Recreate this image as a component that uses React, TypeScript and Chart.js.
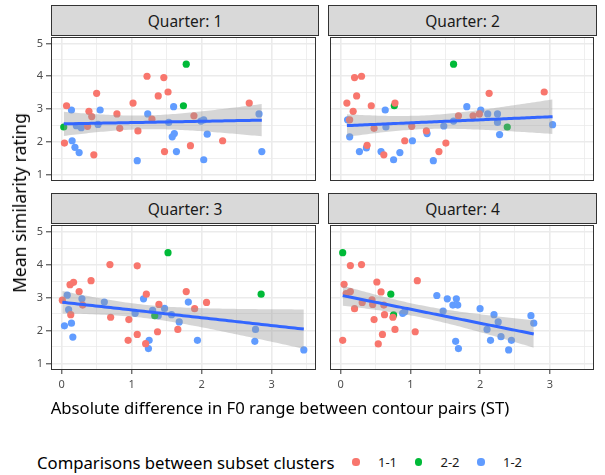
import React, { useEffect, useRef } from "react";
import { Chart, registerables } from "chart.js";
Chart.register(...registerables);

const GROUPS = ["1-1", "2-2", "1-2"];
const COLORS = ["#F8766D", "#00BA38", "#619CFF"];
const QUARTERS = ["Quarter: 1", "Quarter: 2", "Quarter: 3", "Quarter: 4"];
const X_TITLE = "Absolute difference in F0 range between contour pairs (ST)";
const Y_TITLE = "Mean similarity rating";
const LEGEND_TITLE = "Comparisons between subset clusters";
const X_GRID = [0, 0.5, 1, 1.5, 2, 2.5, 3, 3.5];
const Y_GRID = [1, 1.5, 2, 2.5, 3, 3.5, 4, 4.5, 5];
const X_MIN = -0.152, X_MAX = 3.634;
const Y_MIN = 0.8, Y_MAX = 5.2;

// Quarter 1
const q1_11 = [[0.07,3.10],[0.50,3.48],[1.22,4.00],[1.46,3.96],[1.52,3.52],[1.38,3.40],[1.02,3.18],[0.79,2.85],[0.39,2.93],[0.43,2.77],[0.37,2.47],[0.83,2.41],[1.09,2.33],[1.29,2.69],[1.89,2.79],[1.84,1.88],[1.47,1.70],[2.30,2.03],[2.68,3.18],[0.04,1.96],[0.46,1.60]];
const q1_22 = [[1.78,4.37],[1.74,3.10],[0.03,2.45]];
const q1_12 = [[0.14,2.97],[0.55,2.97],[1.23,2.85],[1.60,3.07],[0.21,2.49],[0.28,2.43],[0.52,2.53],[1.53,2.59],[1.99,2.63],[2.03,2.67],[2.82,2.85],[1.61,2.25],[1.58,2.15],[2.08,2.23],[0.15,2.03],[0.19,1.83],[0.25,1.67],[1.64,1.70],[1.08,1.42],[2.03,1.45],[2.86,1.70]];
// Quarter 2
const q2_11 = [[0.20,3.96],[0.30,4.00],[0.23,3.40],[0.09,3.18],[0.18,2.93],[0.13,2.67],[0.44,3.10],[0.78,3.18],[0.48,2.41],[0.38,1.89],[0.62,1.60],[0.92,2.03],[1.02,2.47],[1.23,2.33],[1.51,1.96],[1.41,1.70],[1.69,2.79],[1.90,2.79],[1.99,2.85],[2.13,3.48],[2.92,3.52]];
const q2_22 = [[1.62,4.37],[0.77,3.10],[2.39,2.45]];
const q2_12 = [[0.10,2.67],[0.13,2.15],[0.27,1.70],[0.37,1.81],[0.64,2.97],[0.65,2.45],[0.58,1.70],[0.76,1.45],[0.85,1.67],[1.03,2.03],[1.24,2.25],[1.33,1.42],[1.48,2.48],[1.62,2.63],[1.81,3.07],[2.01,2.97],[2.11,2.85],[2.25,2.85],[2.25,2.59],[2.28,2.22],[3.04,2.52]];
// Quarter 3
const q3_11 = [[0.01,2.92],[0.12,3.39],[0.17,3.46],[0.25,3.18],[0.42,3.51],[0.30,2.77],[0.13,2.48],[0.69,4.00],[0.70,2.40],[1.08,3.96],[1.21,3.10],[1.39,2.79],[1.37,1.96],[0.96,2.33],[0.95,1.70],[1.08,1.88],[1.20,1.60],[1.66,2.03],[1.78,3.18],[1.90,2.66],[2.07,2.85]];
const q3_22 = [[1.52,4.36],[2.85,3.10],[1.33,2.45]];
const q3_12 = [[0.08,3.07],[0.10,2.63],[0.29,2.96],[0.04,2.14],[0.14,2.22],[0.16,1.80],[0.61,2.86],[1.05,2.52],[1.17,2.96],[1.30,2.61],[1.38,2.45],[1.47,2.67],[1.57,2.48],[1.68,2.26],[1.81,2.86],[1.25,1.70],[1.24,1.45],[1.94,1.70],[2.77,2.03],[2.76,1.67],[3.46,1.41]];
// Quarter 4
const q4_11 = [[0.14,3.97],[0.30,4.00],[0.05,3.40],[0.14,3.18],[0.08,3.12],[0.52,3.47],[0.58,3.17],[1.10,3.51],[0.31,2.85],[0.45,2.93],[0.46,2.79],[0.62,2.77],[0.20,2.66],[0.63,2.48],[0.75,2.40],[0.48,2.33],[0.78,2.03],[0.60,1.88],[1.07,1.96],[0.03,1.70],[0.54,1.59]];
const q4_22 = [[0.03,4.36],[0.72,3.10],[0.76,2.47]];
const q4_12 = [[0.89,2.52],[0.92,2.57],[1.38,3.06],[1.47,2.59],[1.53,2.96],[1.61,2.77],[1.66,2.96],[1.68,2.77],[1.65,1.67],[1.69,1.45],[2.00,2.66],[2.10,2.03],[2.20,2.48],[2.26,2.26],[2.15,1.70],[2.30,1.81],[2.45,1.70],[2.41,1.41],[2.73,2.45],[2.77,2.22]];

const PANEL_DATA = [
  [q1_11, q1_22, q1_12],
  [q2_11, q2_22, q2_12],
  [q3_11, q3_22, q3_12],
  [q4_11, q4_22, q4_12],
];

// page layout (pixels)
const COL_X = [[51, 318], [328, 596]];
const ROW_Y = [[35, 183], [223, 370]];
const STRIP_TOP = [5, 193];

const FONT = "'Noto Sans', 'Open Sans', sans-serif";

function lmBand(pts: number[][], steps = 80) {
  const n = pts.length;
  let mx = 0, my = 0;
  pts.forEach(([x, y]) => { mx += x; my += y; });
  mx /= n; my /= n;
  let sxx = 0, sxy = 0;
  pts.forEach(([x, y]) => { sxx += (x - mx) ** 2; sxy += (x - mx) * (y - my); });
  const b = sxy / sxx, a = my - b * mx;
  let rss = 0;
  pts.forEach(([x, y]) => { rss += (y - a - b * x) ** 2; });
  const s2 = rss / (n - 2);
  const t = 2.015;
  const xs = pts.map(p => p[0]);
  const lo = Math.min(...xs), hi = Math.max(...xs);
  const fit: any[] = [], up: any[] = [], dn: any[] = [];
  for (let i = 0; i <= steps; i++) {
    const x = lo + (hi - lo) * i / steps;
    const f = a + b * x;
    const se = Math.sqrt(s2 * (1 / n + (x - mx) ** 2 / sxx));
    fit.push({ x, y: f });
    up.push({ x, y: f + t * se });
    dn.push({ x, y: f - t * se });
  }
  return { fit, up, dn };
}

const isInt = (v: number) => Math.abs(v - Math.round(v)) < 1e-9;

const borderPlugin = {
  id: "panelBorder",
  afterDraw(chart: any) {
    const { ctx, chartArea: c } = chart;
    ctx.save();
    ctx.strokeStyle = "#333333";
    ctx.lineWidth = 1;
    ctx.strokeRect(c.left + 0.5, c.top + 0.5, c.right - c.left - 1, c.bottom - c.top - 1);
    ctx.restore();
  },
};

function Panel({ idx }: { idx: number }) {
  const ref = useRef<HTMLCanvasElement>(null);
  const col = idx % 2, row = Math.floor(idx / 2);
  const [x0, x1] = COL_X[col];
  const [y0, y1] = ROW_Y[row];
  const AX = col === 0 ? 45 : 2;
  const BX = row === 1 ? 26 : 2;
  const PT = 2, PR = 2;
  const W = x1 - x0 + AX + PR;
  const H = y1 - y0 + PT + BX;
  const left = x0 - AX, top = y0 - PT;

  useEffect(() => {
    const groups = PANEL_DATA[idx];
    const all = ([] as number[][]).concat(...groups);
    const band = lmBand(all);
    const tickFont = { family: FONT, size: 11 };
    const chart = new Chart(ref.current!, {
      type: "scatter",
      data: {
        datasets: [
          { type: "line", data: band.fit, borderColor: "#3366FF", borderWidth: 3, pointRadius: 0, fill: false, order: 0 } as any,
          { type: "line", data: band.up, borderColor: "rgba(0,0,0,0)", borderWidth: 0, pointRadius: 0, fill: "+1", backgroundColor: "rgba(153,153,153,0.4)", order: 1 } as any,
          { type: "line", data: band.dn, borderColor: "rgba(0,0,0,0)", borderWidth: 0, pointRadius: 0, fill: false, order: 1 } as any,
          ...groups.map((g, i) => ({
            label: GROUPS[i],
            data: g.map(([x, y]) => ({ x, y })),
            backgroundColor: COLORS[i],
            borderWidth: 0,
            pointRadius: 3.6,
            order: 2 + i,
          })),
        ],
      },
      options: {
        animation: false,
        responsive: false,
        maintainAspectRatio: false,
        events: [],
        layout: { padding: { top: PT, right: PR, left: 0, bottom: 0 } },
        plugins: { legend: { display: false }, tooltip: { enabled: false } },
        scales: {
          x: {
            type: "linear",
            min: X_MIN,
            max: X_MAX,
            afterBuildTicks: (s: any) => { s.ticks = X_GRID.map(v => ({ value: v })); },
            afterFit: (s: any) => { s.height = BX; s.paddingLeft = 0; s.paddingRight = 0; },
            ticks: {
              display: row === 1,
              autoSkip: false,
              maxRotation: 0,
              padding: 4,
              color: "#4D4D4D",
              font: tickFont,
              callback: (v: any) => (isInt(v) ? String(v) : ""),
            },
            grid: {
              color: "#EBEBEB",
              lineWidth: (c: any) => (c.tick && isInt(c.tick.value) ? 1.6 : 0.8),
              drawTicks: row === 1,
              tickLength: 4,
              tickWidth: 1,
              tickColor: (c: any) => (c.tick && isInt(c.tick.value) ? "#333333" : "rgba(0,0,0,0)"),
            },
            border: { display: false },
          },
          y: {
            type: "linear",
            min: Y_MIN,
            max: Y_MAX,
            afterBuildTicks: (s: any) => { s.ticks = Y_GRID.map(v => ({ value: v })); },
            afterFit: (s: any) => { s.width = AX; s.paddingTop = 0; s.paddingBottom = 0; },
            ticks: {
              display: col === 0,
              autoSkip: false,
              padding: 3,
              color: "#4D4D4D",
              font: tickFont,
              callback: (v: any) => (isInt(v) ? String(v) : ""),
            },
            grid: {
              color: "#EBEBEB",
              lineWidth: (c: any) => (c.tick && isInt(c.tick.value) ? 1.6 : 0.8),
              drawTicks: col === 0,
              tickLength: 5,
              tickWidth: 1,
              tickColor: (c: any) => (c.tick && isInt(c.tick.value) ? "#333333" : "rgba(0,0,0,0)"),
            },
            border: { display: false },
          },
        },
      } as any,
      plugins: [borderPlugin],
    });
    return () => chart.destroy();
  }, [idx]);

  return (
    <>
      <div
        style={{
          position: "absolute",
          left: x0,
          top: STRIP_TOP[row],
          width: x1 - x0 + 1,
          height: y0 - STRIP_TOP[row] + 1,
          boxSizing: "border-box",
          border: "1px solid #333333",
          background: "#D9D9D9",
          color: "#1A1A1A",
          fontSize: 15.5,
          display: "flex",
          alignItems: "center",
          justifyContent: "center",
        }}
      >
        {QUARTERS[idx]}
      </div>
      <canvas
        ref={ref}
        width={W}
        height={H}
        style={{ position: "absolute", left, top, width: W, height: H }}
      />
    </>
  );
}

export default function App() {
  return (
    <div
      style={{
        position: "fixed",
        left: 0,
        top: 0,
        width: 605,
        height: 475,
        background: "#FFFFFF",
        fontFamily: FONT,
        overflow: "hidden",
      }}
    >
      {[0, 1, 2, 3].map(i => (
        <Panel key={i} idx={i} />
      ))}
      <div style={{ position: "absolute", left: 19, top: 203, width: 0, height: 0 }}>
        <div
          style={{
            position: "absolute",
            left: 0,
            top: 0,
            transform: "translate(-50%, -50%) rotate(-90deg)",
            whiteSpace: "nowrap",
            fontSize: 17.5,
            lineHeight: "20px",
            color: "#000000",
          }}
        >
          {Y_TITLE}
        </div>
      </div>
      <div
        style={{
          position: "absolute",
          left: 280,
          top: 407,
          transform: "translate(-50%, -50%)",
          whiteSpace: "nowrap",
          fontSize: 16.7,
          color: "#000000",
        }}
      >
        {X_TITLE}
      </div>
      <div
        style={{
          position: "absolute",
          left: 37,
          top: 462,
          transform: "translateY(-50%)",
          whiteSpace: "nowrap",
          fontSize: 16.7,
          color: "#000000",
        }}
      >
        {LEGEND_TITLE}
      </div>
      {GROUPS.map((g, i) => (
        <React.Fragment key={g}>
          <div
            style={{
              position: "absolute",
              left: 356 + i * 62.5 - 3.6,
              top: 462 - 3.6,
              width: 7.2,
              height: 7.2,
              borderRadius: "50%",
              background: COLORS[i],
            }}
          />
          <div
            style={{
              position: "absolute",
              left: 378 + i * 62.5,
              top: 462,
              transform: "translateY(-50%)",
              fontSize: 13,
              color: "#1A1A1A",
              whiteSpace: "nowrap",
            }}
          >
            {g}
          </div>
        </React.Fragment>
      ))}
    </div>
  );
}
